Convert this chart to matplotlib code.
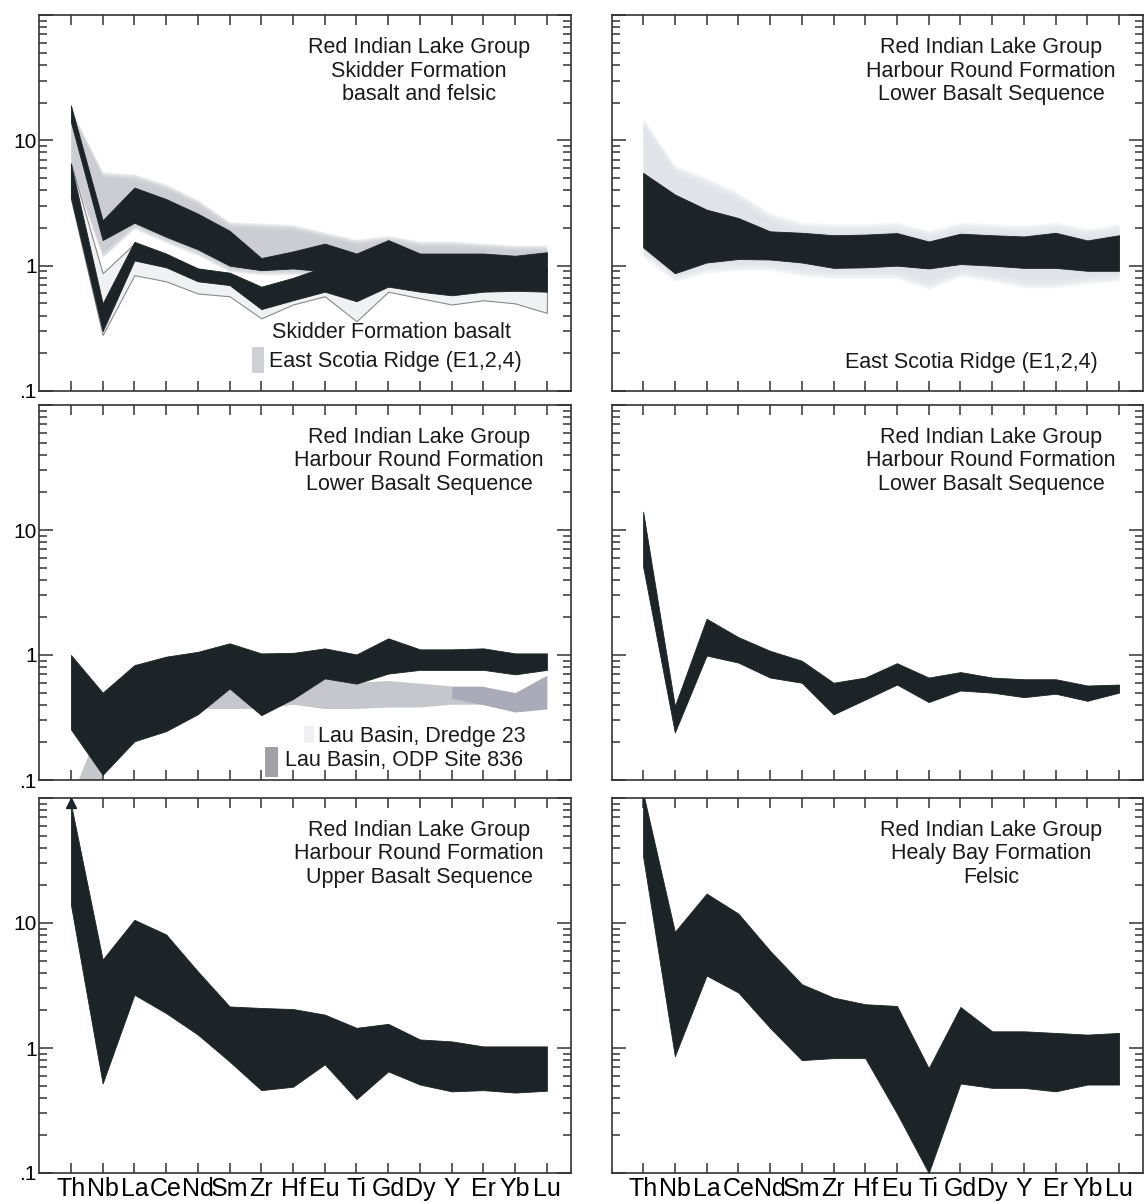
import numpy as np
import matplotlib
matplotlib.use('Agg')
import matplotlib.pyplot as plt
from matplotlib.ticker import FixedLocator, LogLocator, FuncFormatter, NullFormatter
from matplotlib.patches import Rectangle

# ---------------- data ----------------
elements = ['Th', 'Nb', 'La', 'Ce', 'Nd', 'Sm', 'Zr', 'Hf', 'Eu', 'Ti', 'Gd', 'Dy', 'Y', 'Er', 'Yb', 'Lu']

# Panel 1: Skidder Formation, basalt and felsic
skid_upper_lo = [14, 1.6, 2.2, 1.7, 1.35, 1.0, 0.92, 0.95, 0.9, 0.85, 0.9, 0.9, 0.9, 0.9, 0.9, 0.9]
skid_upper_hi = [19, 2.3, 4.2, 3.4, 2.6, 1.9, 1.15, 1.3, 1.5, 1.25, 1.6, 1.25, 1.25, 1.25, 1.2, 1.28]
skid_lower_lo = [3.5, 0.3, 1.1, 0.97, 0.75, 0.7, 0.45, 0.53, 0.62, 0.52, 0.68, 0.62, 0.58, 0.62, 0.63, 0.62]
skid_lower_hi = [6.5, 0.5, 1.55, 1.25, 0.95, 0.88, 0.68, 0.8, 0.98, 0.9, 0.98, 0.95, 0.95, 0.95, 0.95, 0.95]
skid_basalt_lo = [3.4, 0.28, 0.84, 0.75, 0.6, 0.57, 0.38, 0.49, 0.57, 0.36, 0.62, 0.55, 0.49, 0.53, 0.5, 0.42]
skid_basalt_hi = [6.6, 0.87, 1.5, 1.2, 0.95, 0.85, 0.65, 0.78, 0.95, 0.88, 0.95, 0.92, 0.92, 0.92, 0.92, 0.92]
esr1_lo = [6.6, 1.3, 2.2, 1.7, 1.35, 1.0, 0.95, 0.95, 0.92, 0.9, 0.9, 0.9, 0.9, 0.9, 0.9, 0.9]
esr1_hi = [16, 5.0, 4.8, 4.0, 3.0, 2.0, 1.95, 1.9, 1.65, 1.45, 1.55, 1.4, 1.4, 1.35, 1.3, 1.3]

# Panel 2: Harbour Round Formation, Lower Basalt Sequence (vs East Scotia Ridge)
hr2_lo = [1.4, 0.87, 1.06, 1.13, 1.12, 1.06, 0.96, 0.97, 1.0, 0.95, 1.03, 1.0, 0.96, 0.96, 0.91, 0.91]
hr2_hi = [5.5, 3.7, 2.8, 2.4, 1.88, 1.83, 1.75, 1.77, 1.82, 1.56, 1.8, 1.75, 1.71, 1.83, 1.59, 1.75]
esr2_lo = [1.4, 0.9, 1.05, 1.1, 1.1, 1.0, 0.95, 0.95, 0.95, 0.78, 0.98, 0.9, 0.8, 0.8, 0.86, 0.9]
esr2_hi = [12.5, 5.3, 4.2, 3.2, 2.2, 1.85, 1.8, 1.8, 1.85, 1.6, 1.85, 1.8, 1.75, 1.85, 1.65, 1.8]

# Panel 3: Harbour Round Formation, Lower Basalt Sequence (vs Lau Basin)
hr3_lo = [0.254, 0.11, 0.204, 0.246, 0.336, 0.54, 0.33, 0.445, 0.65, 0.59, 0.71, 0.76, 0.76, 0.76, 0.70, 0.76]
hr3_hi = [1.0, 0.50, 0.83, 0.97, 1.06, 1.24, 1.03, 1.04, 1.13, 1.01, 1.36, 1.11, 1.11, 1.13, 1.03, 1.03]
nan = np.nan
dredge_lo = [0.05, 0.06, nan, nan, 0.37, 0.37, 0.37, 0.40, 0.37, 0.37, 0.38, 0.38, 0.40, 0.40, nan, nan]
dredge_hi = [0.07, 0.30, nan, nan, 0.40, 0.56, 0.40, 0.45, 0.66, 0.60, 0.62, 0.59, 0.56, 0.56, nan, nan]
odp_lo = [nan, nan, nan, nan, nan, nan, nan, nan, nan, nan, nan, nan, 0.45, 0.40, 0.35, 0.37]
odp_hi = [nan, nan, nan, nan, nan, nan, nan, nan, nan, nan, nan, nan, 0.56, 0.56, 0.50, 0.69]

# Panel 4: Harbour Round Formation, Lower Basalt Sequence
hr4_lo = [5.1, 0.24, 0.99, 0.87, 0.66, 0.60, 0.335, 0.44, 0.58, 0.42, 0.52, 0.50, 0.46, 0.49, 0.43, 0.50]
hr4_hi = [14, 0.39, 1.95, 1.39, 1.08, 0.90, 0.60, 0.66, 0.86, 0.66, 0.73, 0.66, 0.64, 0.64, 0.57, 0.58]

# Panel 5: Harbour Round Formation, Upper Basalt Sequence
hr5_lo = [14, 0.52, 2.67, 1.9, 1.28, 0.78, 0.46, 0.49, 0.74, 0.39, 0.65, 0.51, 0.45, 0.46, 0.44, 0.455]
hr5_hi = [90, 5.1, 10.6, 8.1, 4.1, 2.15, 2.09, 2.05, 1.85, 1.45, 1.56, 1.17, 1.13, 1.03, 1.03, 1.03]

# Panel 6: Healy Bay Formation, Felsic
hb6_lo = [34, 0.86, 3.8, 2.78, 1.45, 0.8, 0.83, 0.83, 0.3, 0.1, 0.52, 0.48, 0.48, 0.45, 0.51, 0.51]
hb6_hi = [110, 8.5, 17.2, 11.9, 6.0, 3.24, 2.53, 2.24, 2.17, 0.69, 2.13, 1.36, 1.36, 1.32, 1.28, 1.32]

titles = [
    ['Red Indian Lake Group', 'Skidder Formation', 'basalt and felsic'],
    ['Red Indian Lake Group', 'Harbour Round Formation', 'Lower Basalt Sequence'],
    ['Red Indian Lake Group', 'Harbour Round Formation', 'Lower Basalt Sequence'],
    ['Red Indian Lake Group', 'Harbour Round Formation', 'Lower Basalt Sequence'],
    ['Red Indian Lake Group', 'Harbour Round Formation', 'Upper Basalt Sequence'],
    ['Red Indian Lake Group', 'Healy Bay Formation', 'Felsic'],
]

# ---------------- style ----------------
DARK = '#1c2427'
FONT = ['Liberation Sans', 'DejaVu Sans']
plt.rcParams['font.family'] = FONT

W, H = 1144, 1203
fig = plt.figure(figsize=(W / 100, H / 100), dpi=100)
col_left = [39.5, 611.7]
width = 531.5
rows = [(15, 391), (405, 780), (798, 1173)]
x = np.arange(len(elements))


def ytick_fmt(v, pos):
    return {0.1: '.1', 1: '1', 10: '10'}.get(round(v, 3), '')


def make_ax(col, row):
    x0 = col_left[col]
    top, bot = rows[row]
    ax = fig.add_axes([x0 / W, (H - bot) / H, width / W, (bot - top) / H])
    ax.set_yscale('log')
    ax.set_ylim(0.1, 100)
    ax.set_xlim(-0.99, 15.76)
    ax.set_xticks(x)
    ax.yaxis.set_major_locator(FixedLocator([0.1, 1, 10, 100]))
    ax.yaxis.set_minor_locator(LogLocator(base=10, subs=np.arange(2, 10)))
    ax.yaxis.set_minor_formatter(NullFormatter())
    ax.tick_params(axis='both', which='both', direction='in', top=True, right=True,
                   color='#333333', width=1.1)
    ax.tick_params(axis='y', which='major', length=10, pad=2, labelsize=15)
    ax.tick_params(axis='y', which='minor', length=5.5)
    ax.tick_params(axis='x', which='major', length=7, pad=3)
    for s in ax.spines.values():
        s.set_linewidth(1.2)
        s.set_color('#333333')
    if col == 0:
        ax.yaxis.set_major_formatter(FuncFormatter(ytick_fmt))
    else:
        ax.tick_params(axis='y', which='both', labelleft=False)
    if row == 2:
        ax.set_xticklabels(elements)
        for lab in ax.get_xticklabels():
            lab.set_fontfamily(['Liberation Sans Narrow', 'Liberation Sans'])
            lab.set_fontsize(18)
    else:
        ax.set_xticklabels([])
    return ax


def band(ax, lo, hi, color=DARK, z=3):
    ax.fill_between(x, lo, hi, color=color, lw=0.6, edgecolor=color, zorder=z)


def soft_fill(ax, lo, hi, color, layers=6, spread=0.07, alpha=0.28, z=1):
    lo = np.asarray(lo, float)
    hi = np.asarray(hi, float)
    for k in range(layers, -1, -1):
        f = 10 ** (spread * k / layers)
        ax.fill_between(x, lo / f, hi * f, color=color, alpha=alpha, lw=0, zorder=z)


def add_title(ax, lines):
    for line, yf in zip(lines, [0.913, 0.851, 0.788]):
        ax.text(0.714, yf, line, transform=ax.transAxes, ha='center', va='center',
                fontsize=15.5, color='#1a1a1a', zorder=10)


axes = [make_ax(0, 0), make_ax(1, 0), make_ax(0, 1), make_ax(1, 1), make_ax(0, 2), make_ax(1, 2)]
for ax, t in zip(axes, titles):
    add_title(ax, t)

# Panel 1
ax = axes[0]
soft_fill(ax, esr1_lo, esr1_hi, '#c9cbd0', spread=0.05, alpha=0.3)
ax.fill_between(x, skid_basalt_lo, skid_basalt_hi, facecolor='#f0f1f3', edgecolor='#8a8a8a',
                lw=0.8, zorder=2)
band(ax, skid_lower_lo, skid_lower_hi)
band(ax, skid_upper_lo, skid_upper_hi)
ax.text(0.662, 0.155, 'Skidder Formation basalt', transform=ax.transAxes, ha='center',
        va='center', fontsize=15.5, color='#1a1a1a', zorder=10)
ax.text(0.669, 0.078, 'East Scotia Ridge (E1,2,4)', transform=ax.transAxes, ha='center',
        va='center', fontsize=15.5, color='#1a1a1a', zorder=10)
ax.add_patch(Rectangle((0.40, 0.048), 0.0226, 0.069, transform=ax.transAxes,
                       facecolor='#cfd0d4', edgecolor='none', zorder=9))

# Panel 2
ax = axes[1]
soft_fill(ax, esr2_lo, esr2_hi, '#e0e2e8', spread=0.08, alpha=0.3)
band(ax, hr2_lo, hr2_hi)
ax.text(0.676, 0.075, 'East Scotia Ridge (E1,2,4)', transform=ax.transAxes, ha='center',
        va='center', fontsize=15.5, color='#1a1a1a', zorder=10)

# Panel 3
ax = axes[2]
ax.fill_between(x, dredge_lo, dredge_hi, color='#c6c7cc', lw=0, zorder=1)
ax.fill_between(x, odp_lo, odp_hi, color='#abaab8', lw=0, zorder=1)
band(ax, hr3_lo, hr3_hi)
ax.text(0.72, 0.115, 'Lau Basin, Dredge 23', transform=ax.transAxes, ha='center',
        va='center', fontsize=15.5, color='#1a1a1a', zorder=10)
ax.text(0.686, 0.053, 'Lau Basin, ODP Site 836', transform=ax.transAxes, ha='center',
        va='center', fontsize=15.5, color='#1a1a1a', zorder=10)
ax.add_patch(Rectangle((0.424, 0.008), 0.0245, 0.08, transform=ax.transAxes,
                       facecolor='#a0a0a6', edgecolor='none', zorder=9))
ax.add_patch(Rectangle((0.497, 0.1), 0.02, 0.045, transform=ax.transAxes,
                       facecolor='#f0f0f2', edgecolor='none', zorder=9))

# Panel 4
ax = axes[3]
band(ax, hr4_lo, hr4_hi)

# Panel 5
ax = axes[4]
band(ax, hr5_lo, hr5_hi)
ax.plot([0], [92], marker='^', markersize=7, color=DARK, clip_on=False, zorder=5)

# Panel 6
ax = axes[5]
band(ax, hb6_lo, hb6_hi)

fig.savefig('out.png', dpi=100)
